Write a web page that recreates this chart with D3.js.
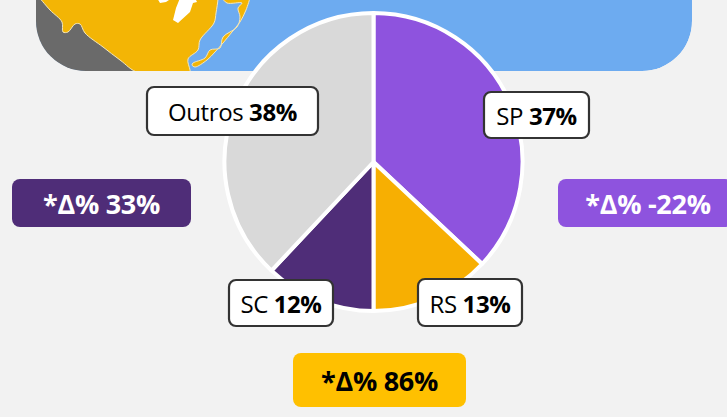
<!DOCTYPE html>
<html>
<head>
<script src="https://cdnjs.cloudflare.com/ajax/libs/d3/7.8.5/d3.min.js"></script>
<style>
  html, body { margin: 0; padding: 0; background: #f2f2f2; }
  svg { display: block; }
  text { font-family: "Open Sans", sans-serif; }
</style>
</head>
<body>
<script>

var width = 727;
var height = 417;

var states = ['SP', 'RS', 'SC', 'Outros'];
var shares = [37, 13, 12, 38];
var sliceColors = ['#8e53de', '#f7af02', '#4f2d78', '#d9d9d9'];
var deltas = ['*Δ% -22%', '*Δ% 86%', '*Δ% 33%'];

var svg = d3.select('body').append('svg')
  .attr('width', width)
  .attr('height', height);

// map panel cut off by the top of the picture
var panel = 'M36,-60H692V21A50,50 0 0 1 642,71H86A50,50 0 0 1 36,21Z';
svg.append('clipPath').attr('id', 'panel').append('path').attr('d', panel);
var map = svg.append('g').attr('clip-path', 'url(#panel)');

map.append('path').attr('d', panel).style('fill', '#6dabf0');
map.append('rect').attr('x', 30).attr('y', 0).attr('width', 120).attr('height', 75).style('fill', '#6a6a6a');

var line = d3.line().curve(d3.curveCatmullRom);
var land = [[38,-4],[50,10],[62,22],[63,32],[68,32],[75,24],[80,24],[85,33],[103,47],[120,60],[139,73],[190,73],[190,70],[188,59],[198,50],[200,40],[214,23],[216,13],[218,-1],[218,-5],[38,-5]];
var spit = [[250,-2],[246,10],[240,22],[232,32],[223,43],[215,52],[207,60],[195,67],[192,65],[193,63],[205,58],[210,50],[220,48],[223,37],[237,27],[240,17],[238,8],[242,3],[227,3],[222,-2]];
var marks = [[157,-2],[160,3],[166,2],[172,-2],[180,-2],[176,8],[173,20],[178,23],[190,12],[193,3],[197,2],[195,-2]];

map.append('path').attr('d', line(land) + 'Z')
  .style('fill', '#f3b505').style('stroke', '#f4e6b8').style('stroke-width', 1);
map.append('path').attr('d', line(spit) + 'Z')
  .style('fill', '#f3b505').style('stroke', '#f4e6b8').style('stroke-width', 1);
map.append('path').attr('d', d3.line()(marks) + 'Z')
  .style('fill', '#fff');

// pie
var cx = 373.5;
var cy = 162;
var radius = 149;
var pie = d3.pie().sort(null);
var arc = d3.arc().innerRadius(0).outerRadius(radius);
var slices = pie(shares);

svg.append('g')
  .attr('transform', 'translate(' + cx + ',' + cy + ')')
  .selectAll('path')
  .data(slices)
  .enter()
  .append('path')
  .attr('d', arc)
  .style('fill', function (d, i) { return sliceColors[i]; })
  .style('stroke', '#fff')
  .style('stroke-width', 4)
  .style('stroke-linejoin', 'round');

// label boxes, x y w h by slice
var labelBoxes = [[484, 92, 105, 46], [418, 279, 104, 47], [229, 280, 104, 46], [147, 87, 171, 48]];

var labels = svg.append('g').selectAll('g')
  .data(states)
  .enter()
  .append('g')
  .attr('transform', function (d, i) { return 'translate(' + labelBoxes[i][0] + ',' + labelBoxes[i][1] + ')'; });

labels.append('rect')
  .attr('rx', 7)
  .attr('width', function (d, i) { return labelBoxes[i][2]; })
  .attr('height', function (d, i) { return labelBoxes[i][3]; })
  .style('fill', '#fff')
  .style('stroke', '#333')
  .style('stroke-width', 2.2);

var labelText = labels.append('text')
  .attr('x', function (d, i) { return labelBoxes[i][2] / 2; })
  .attr('y', function (d, i) { return labelBoxes[i][3] / 2 + 10; })
  .attr('text-anchor', 'middle')
  .style('font-size', '24px')
  .style('letter-spacing', '-0.4px')
  .style('fill', '#000');
labelText.append('tspan').text(function (d) { return d + ' '; });
labelText.append('tspan')
  .style('font-weight', 700)
  .text(function (d, i) { return shares[i] + '%'; });

// delta badges
var badgeBoxes = [[558, 179, 175, 48], [293, 353, 173, 54], [12, 179, 179, 48]];
var badgeFill = ['#8e53de', '#ffc000', '#4f2d78'];
var badgeInk = ['#fff', '#000', '#fff'];

var badges = svg.append('g').selectAll('g')
  .data(deltas)
  .enter()
  .append('g')
  .attr('transform', function (d, i) { return 'translate(' + badgeBoxes[i][0] + ',' + badgeBoxes[i][1] + ')'; });

badges.append('rect')
  .attr('rx', 8)
  .attr('width', function (d, i) { return badgeBoxes[i][2]; })
  .attr('height', function (d, i) { return badgeBoxes[i][3]; })
  .style('fill', function (d, i) { return badgeFill[i]; });

badges.append('text')
  .attr('x', function (d, i) { return i == 0 ? 90 : badgeBoxes[i][2] / 2; })
  .attr('y', function (d, i) { return badgeBoxes[i][3] / 2 + 11; })
  .attr('text-anchor', 'middle')
  .style('font-size', '27px')
  .style('font-weight', 700)
  .style('letter-spacing', '-0.3px')
  .style('fill', function (d, i) { return badgeInk[i]; })
  .text(function (d) { return d; });

</script>
</body>
</html>
